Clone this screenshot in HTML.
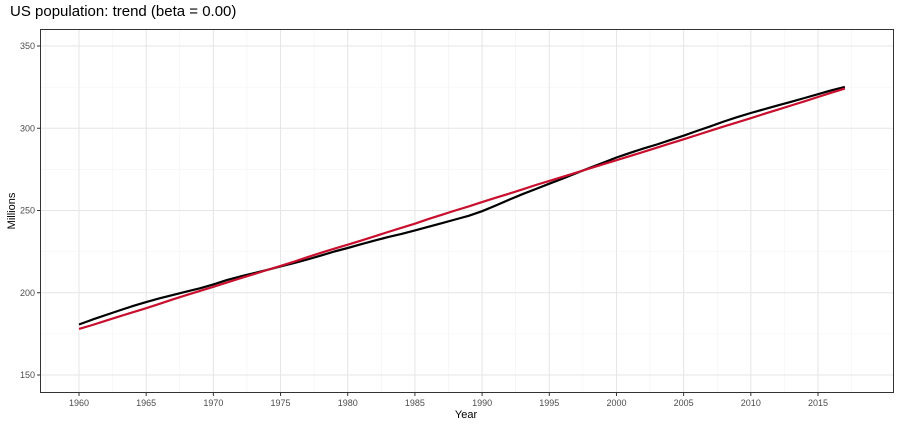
<!DOCTYPE html>
<html><head><meta charset="utf-8"><style>
body{margin:0;background:#fff;font-family:"Liberation Sans",sans-serif}
</style></head><body>
<svg id="chart" width="900" height="425" xmlns="http://www.w3.org/2000/svg" font-family="Liberation Sans, sans-serif">
<rect width="900" height="425" fill="#fff"/>
<text x="10" y="16" font-size="15" fill="#000">US population: trend (beta = 0.00)</text>
<g id="grid"></g>
<g id="series"></g>
<rect x="40.5" y="29.5" width="853" height="363" fill="none" stroke="#333" stroke-width="1"/>
<g id="axes"></g>
<text x="466" y="418" font-size="11" text-anchor="middle">Year</text>
<text transform="translate(15,211) rotate(-90)" font-size="11" text-anchor="middle">Millions</text>
</svg>
<script>
const years=[1960,1961,1962,1963,1964,1965,1966,1967,1968,1969,1970,1971,1972,1973,1974,1975,1976,1977,1978,1979,1980,1981,1982,1983,1984,1985,1986,1987,1988,1989,1990,1991,1992,1993,1994,1995,1996,1997,1998,1999,2000,2001,2002,2003,2004,2005,2006,2007,2008,2009,2010,2011,2012,2013,2014,2015,2016,2017];
const actual=[180.7,183.7,186.5,189.2,191.9,194.3,196.6,198.7,200.7,202.7,205.1,207.7,209.9,211.9,213.9,216.0,218.0,220.2,222.6,225.1,227.2,229.5,231.7,233.8,235.8,237.9,240.1,242.3,244.5,246.8,249.6,253.0,256.5,259.9,263.1,266.3,269.4,272.7,275.9,279.0,282.2,285.0,287.6,290.1,292.8,295.5,298.4,301.2,304.1,306.8,309.3,311.6,313.9,316.1,318.4,320.7,323.1,325.1];
const trend=[178.0,180.4,183.0,185.6,188.1,190.6,193.3,196.0,198.6,201.1,203.6,206.2,208.8,211.3,213.8,216.3,218.9,221.6,224.3,226.8,229.2,231.7,234.3,236.9,239.5,242.0,244.8,247.4,250.0,252.5,255.1,257.7,260.2,262.8,265.5,268.0,270.5,273.0,275.6,278.1,280.6,283.1,285.6,288.2,290.8,293.3,295.9,298.5,301.1,303.6,306.1,308.8,311.3,313.8,316.4,319.0,321.6,324.1];
const xTicks=[1960,1965,1970,1975,1980,1985,1990,1995,2000,2005,2010,2015];
const yTicks=[150,200,250,300,350];
const X=v=>79+(v-1960)*(739/55);
const Y=v=>375-(v-150)*(329/200);
const NS="http://www.w3.org/2000/svg";
function mk(t,a,p){const e=document.createElementNS(NS,t);for(const k in a)e.setAttribute(k,a[k]);p.appendChild(e);return e;}
const grid=document.getElementById('grid'),axes=document.getElementById('axes'),ser=document.getElementById('series');
for(let i=0;i<xTicks.length;i++){
  const x=X(xTicks[i]);
  const g=mk('line',{x1:x,x2:x,y1:30,y2:392,stroke:'#e5e5e5','stroke-width':1},grid);
  
  const xm=X(xTicks[i]+2.5);
  if(xm<893){const m=mk('line',{x1:xm,x2:xm,y1:30,y2:392,stroke:'#f2f2f2','stroke-width':0.6},grid);
  }
  const xm0=X(xTicks[i]-2.5);
  if(i==0){const m=mk('line',{x1:xm0,x2:xm0,y1:30,y2:392,stroke:'#f2f2f2','stroke-width':0.6},grid);
  }
  const t=mk('line',{x1:x,x2:x,y1:393,y2:396,stroke:'#333'},axes);
  
  const l=mk('text',{x:x,y:406,'font-size':9,'text-anchor':'middle',fill:'#4d4d4d'},axes);
  l.textContent=xTicks[i];
}
for(let i=0;i<yTicks.length;i++){
  const y=Y(yTicks[i]);
  const g=mk('line',{x1:41,x2:893,y1:y,y2:y,stroke:'#e5e5e5','stroke-width':1},grid);
  
  if(i<yTicks.length-1){const ym=Y(yTicks[i]+25);
  const m=mk('line',{x1:41,x2:893,y1:ym,y2:ym,stroke:'#f2f2f2','stroke-width':0.6},grid);
  }
  const t=mk('line',{x1:37,x2:40,y1:y,y2:y,stroke:'#333'},axes);
  
  const l=mk('text',{x:35,y:y+3,'font-size':9,'text-anchor':'end',fill:'#4d4d4d'},axes);
  l.textContent=yTicks[i];
}
function line(vals,color,name){
  const d=vals.map((v,i)=>(i?'L':'M')+X(years[i]).toFixed(1)+','+Y(v).toFixed(1)).join('');
  const p=mk('path',{d:d,fill:'none',stroke:color,'stroke-width':2.2,'stroke-linejoin':'round'},ser);
  
}
line(actual,'#000','actual-population-line');
line(trend,'#c8102e','trend-line');
</script>
</body></html>
